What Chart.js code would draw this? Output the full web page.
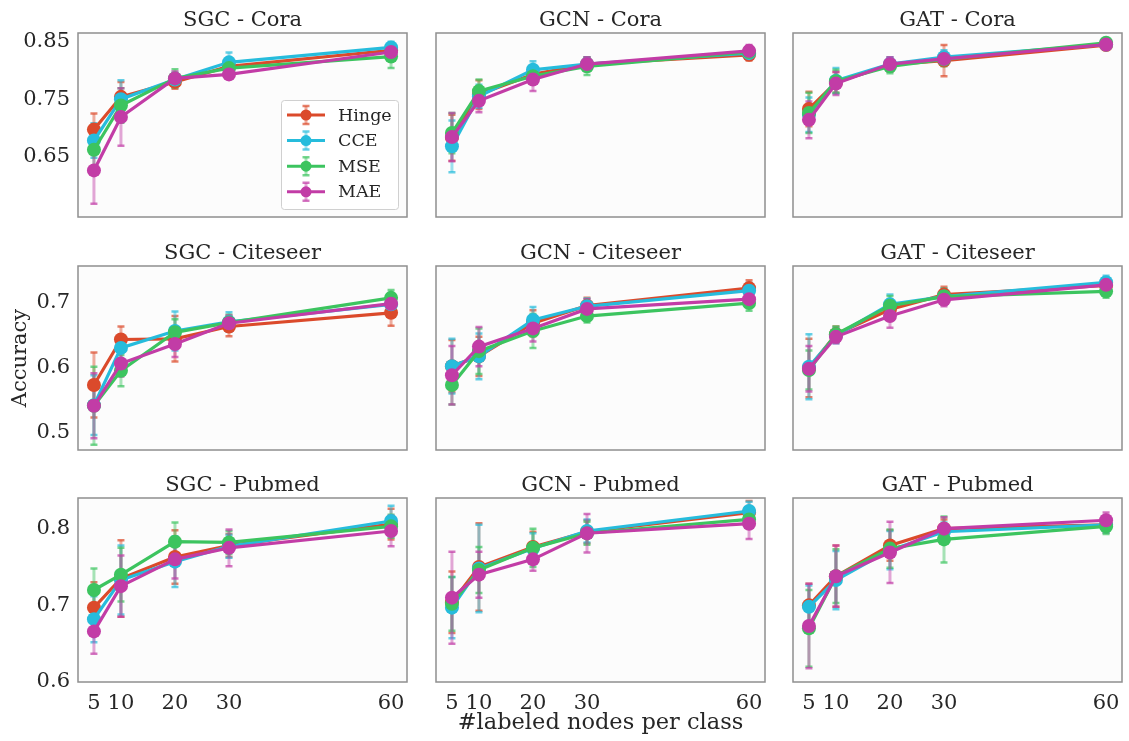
<!DOCTYPE html>
<html>
<head>
<meta charset="utf-8">
<script src="https://cdn.jsdelivr.net/npm/chart.js@4.4.1/dist/chart.umd.min.js"></script>
<style>
    html, body { margin: 0; padding: 0; background: #ffffff; overflow: hidden; }
    #fig { position: relative; width: 1129px; height: 741px; }
    #fig canvas { position: absolute; }
</style>
</head>
<body>
<div id="fig"></div>
<script>
'use strict'

// x values and series names
const nodesPerClass = [5, 10, 20, 30, 60];
const lossNames = ['Hinge', 'CCE', 'MSE', 'MAE'];
const lossColors = ['#db4a2b', '#26bcdc', '#3cc45f', '#c23ca6'];
const modelNames = ['SGC', 'GCN', 'GAT'];
const graphNames = ['Cora', 'Citeseer', 'Pubmed'];

// y ticks per row (rows share the y axis)
const rowTicks = [[0.65, 0.75, 0.85], [0.5, 0.6, 0.7], [0.6, 0.7, 0.8]];
const rowTickLabels = [['0.65', '0.75', '0.85'], ['0.5', '0.6', '0.7'], ['0.6', '0.7', '0.8']];

// Mean accuracy, one row per loss (Hinge, CCE, MSE, MAE)
const sgcCoraMean = [
    [0.697, 0.754, 0.780, 0.807, 0.835],
    [0.678, 0.750, 0.784, 0.814, 0.840],
    [0.662, 0.739, 0.786, 0.804, 0.824],
    [0.626, 0.719, 0.786, 0.793, 0.832]
];
const sgcCoraErr = [
    [0.028, 0.026, 0.012, 0.010, 0.010],
    [0.030, 0.033, 0.012, 0.017, 0.010],
    [0.030, 0.030, 0.016, 0.008, 0.020],
    [0.058, 0.050, 0.012, 0.008, 0.010]
];
const gcnCoraMean = [
    [0.683, 0.758, 0.793, 0.811, 0.827],
    [0.668, 0.755, 0.801, 0.811, 0.830],
    [0.691, 0.764, 0.790, 0.807, 0.832],
    [0.684, 0.747, 0.784, 0.811, 0.834]
];
const gcnCoraErr = [
    [0.040, 0.025, 0.012, 0.012, 0.010],
    [0.045, 0.020, 0.015, 0.012, 0.010],
    [0.035, 0.020, 0.012, 0.015, 0.010],
    [0.042, 0.020, 0.020, 0.012, 0.010]
];
const gatCoraMean = [
    [0.733, 0.779, 0.810, 0.817, 0.844],
    [0.723, 0.782, 0.811, 0.823, 0.845],
    [0.726, 0.781, 0.807, 0.819, 0.848],
    [0.714, 0.777, 0.811, 0.820, 0.845]
];
const gatCoraErr = [
    [0.030, 0.018, 0.012, 0.027, 0.008],
    [0.030, 0.022, 0.012, 0.012, 0.008],
    [0.035, 0.020, 0.012, 0.012, 0.008],
    [0.032, 0.020, 0.012, 0.012, 0.008]
];
const sgcCiteseerMean = [
    [0.573, 0.643, 0.644, 0.663, 0.684],
    [0.542, 0.630, 0.656, 0.670, 0.697],
    [0.541, 0.595, 0.654, 0.669, 0.707],
    [0.541, 0.606, 0.636, 0.668, 0.698]
];
const sgcCiteseerErr = [
    [0.050, 0.020, 0.035, 0.015, 0.020],
    [0.046, 0.020, 0.030, 0.015, 0.012],
    [0.060, 0.024, 0.020, 0.012, 0.012],
    [0.050, 0.020, 0.020, 0.012, 0.012]
];
const gcnCiteseerMean = [
    [0.602, 0.617, 0.668, 0.695, 0.722],
    [0.602, 0.617, 0.673, 0.694, 0.718],
    [0.573, 0.625, 0.656, 0.679, 0.699],
    [0.588, 0.632, 0.660, 0.690, 0.705]
];
const gcnCiteseerErr = [
    [0.040, 0.030, 0.020, 0.012, 0.012],
    [0.042, 0.035, 0.020, 0.012, 0.012],
    [0.030, 0.035, 0.026, 0.010, 0.012],
    [0.045, 0.030, 0.020, 0.015, 0.012]
];
const gatCiteseerMean = [
    [0.599, 0.651, 0.689, 0.712, 0.726],
    [0.601, 0.649, 0.697, 0.709, 0.731],
    [0.596, 0.651, 0.695, 0.709, 0.717],
    [0.598, 0.647, 0.679, 0.704, 0.727]
];
const gatCiteseerErr = [
    [0.045, 0.012, 0.015, 0.012, 0.010],
    [0.050, 0.012, 0.015, 0.012, 0.010],
    [0.030, 0.012, 0.015, 0.012, 0.010],
    [0.035, 0.010, 0.018, 0.010, 0.010]
];
const sgcPubmedMean = [
    [0.697, 0.735, 0.763, 0.778, 0.806],
    [0.682, 0.733, 0.757, 0.777, 0.810],
    [0.720, 0.740, 0.783, 0.782, 0.803],
    [0.666, 0.725, 0.760, 0.775, 0.797]
];
const sgcPubmedErr = [
    [0.033, 0.050, 0.035, 0.015, 0.020],
    [0.030, 0.045, 0.033, 0.015, 0.020],
    [0.028, 0.035, 0.025, 0.015, 0.015],
    [0.029, 0.040, 0.025, 0.024, 0.020]
];
const gcnPubmedMean = [
    [0.704, 0.750, 0.776, 0.796, 0.821],
    [0.697, 0.748, 0.774, 0.797, 0.823],
    [0.702, 0.746, 0.775, 0.794, 0.812],
    [0.710, 0.740, 0.760, 0.794, 0.8065]
];
const gcnPubmedErr = [
    [0.040, 0.057, 0.020, 0.015, 0.015],
    [0.040, 0.057, 0.020, 0.015, 0.012],
    [0.035, 0.030, 0.025, 0.015, 0.010],
    [0.060, 0.030, 0.015, 0.025, 0.020]
];
const gatPubmedMean = [
    [0.700, 0.738, 0.778, 0.800, 0.805],
    [0.698, 0.733, 0.772, 0.796, 0.805],
    [0.670, 0.738, 0.774, 0.786, 0.803],
    [0.673, 0.738, 0.769, 0.800, 0.811]
];
const gatPubmedErr = [
    [0.028, 0.040, 0.020, 0.012, 0.010],
    [0.028, 0.038, 0.025, 0.012, 0.010],
    [0.050, 0.035, 0.025, 0.030, 0.010],
    [0.055, 0.040, 0.040, 0.015, 0.010]
];

const panelMeans = [
    [sgcCoraMean, gcnCoraMean, gatCoraMean],
    [sgcCiteseerMean, gcnCiteseerMean, gatCiteseerMean],
    [sgcPubmedMean, gcnPubmedMean, gatPubmedMean]
];
const panelErrs = [
    [sgcCoraErr, gcnCoraErr, gatCoraErr],
    [sgcCiteseerErr, gcnCiteseerErr, gatCiteseerErr],
    [sgcPubmedErr, gcnPubmedErr, gatPubmedErr]
];

// Layout of the 3x3 grid (plot area corners, in page pixels)
const colLeft = [78, 436, 793];
const rowTop = [33, 266, 498];
const rowRange = [[0.545, 0.865], [0.473, 0.756], [0.6, 0.84]];
const plotW = 335, plotH = 184;
const marginL = 78, marginT = 33, marginR = 1, marginB = 58;

const serif = '"DejaVu Serif", "Liberation Serif", serif';
const textColor = '#262626';

Chart.defaults.font.family = serif;
Chart.defaults.color = textColor;

function hexToRgba(hex, alpha) {
    let r = parseInt(hex.slice(1, 3), 16);
    let g = parseInt(hex.slice(3, 5), 16);
    let b = parseInt(hex.slice(5, 7), 16);
    return 'rgba(' + r + ',' + g + ',' + b + ',' + alpha + ')';
}

/**
 * Draws one vertical error bar with caps.
 */
function drawErrorBar(ctx, x, yLo, yHi, color) {
    ctx.save();
    ctx.strokeStyle = hexToRgba(color, 0.45);
    ctx.lineWidth = 3;
    ctx.beginPath();
    ctx.moveTo(x, yLo);
    ctx.lineTo(x, yHi);
    ctx.stroke();
    ctx.strokeStyle = hexToRgba(color, 0.7);
    ctx.lineWidth = 2.5;
    ctx.beginPath();
    ctx.moveTo(x - 3.5, yLo);
    ctx.lineTo(x + 3.5, yLo);
    ctx.moveTo(x - 3.5, yHi);
    ctx.lineTo(x + 3.5, yHi);
    ctx.stroke();
    ctx.restore();
}

// Error bars placed through the chart's own scales.
const errorBarsPlugin = {
    id: 'errorBars',
    beforeDatasetsDraw(chart) {
        const ctx = chart.ctx;
        const xs = chart.scales.x;
        const ys = chart.scales.y;
        chart.data.datasets.forEach((ds) => {
            ds.data.forEach((pt, j) => {
                let x = xs.getPixelForValue(pt.x);
                let lo = ys.getPixelForValue(pt.y - ds.errors[j]);
                let hi = ys.getPixelForValue(pt.y + ds.errors[j]);
                drawErrorBar(ctx, x, lo, hi, ds.borderColor);
            });
        });
    }
};

const framePlugin = {
    id: 'frame',
    beforeDraw(chart) {
        const a = chart.chartArea;
        chart.ctx.save();
        chart.ctx.fillStyle = '#fcfcfc';
        chart.ctx.fillRect(a.left, a.top, a.right - a.left, a.bottom - a.top);
        chart.ctx.restore();
    },
    afterDraw(chart) {
        const a = chart.chartArea;
        chart.ctx.save();
        chart.ctx.strokeStyle = '#8f8f8f';
        chart.ctx.lineWidth = 1.5;
        chart.ctx.strokeRect(a.left, a.top, a.right - a.left, a.bottom - a.top);
        chart.ctx.restore();
    }
};

function makeTitlePlugin(text) {
    return {
        id: 'panelTitle',
        afterDraw(chart) {
            const a = chart.chartArea;
            const ctx = chart.ctx;
            ctx.save();
            ctx.font = '21px ' + serif;
            ctx.fillStyle = textColor;
            ctx.textAlign = 'center';
            ctx.textBaseline = 'alphabetic';
            ctx.fillText(text, (a.left + a.right) / 2, a.top - 7);
            ctx.restore();
        }
    };
}

// Legend drawn inside the lower right corner of the first panel.
const lossLegendPlugin = {
    id: 'lossLegend',
    afterDraw(chart) {
        const a = chart.chartArea;
        const ctx = chart.ctx;
        const boxW = 117, boxH = 109;
        const bx = a.right - 9 - boxW;
        const by = a.bottom - 8 - boxH;

        ctx.save();
        ctx.fillStyle = 'rgba(255,255,255,0.85)';
        ctx.strokeStyle = '#d0d0d0';
        ctx.lineWidth = 1;
        ctx.beginPath();
        ctx.roundRect(bx + 0.5, by + 0.5, boxW, boxH, 3);
        ctx.fill();
        ctx.stroke();

        chart.data.datasets.forEach((ds, i) => {
            let cy = by + 15 + i * 25.6;
            let color = ds.borderColor;
            drawErrorBar(ctx, bx + 25, cy - 9, cy + 9, color);
            ctx.strokeStyle = color;
            ctx.lineWidth = 3;
            ctx.beginPath();
            ctx.moveTo(bx + 6, cy);
            ctx.lineTo(bx + 44, cy);
            ctx.stroke();
            ctx.fillStyle = color;
            ctx.beginPath();
            ctx.arc(bx + 25, cy, 5.5, 0, Math.PI * 2);
            ctx.fill();
            ctx.fillStyle = textColor;
            ctx.font = '17.5px ' + serif;
            ctx.textAlign = 'left';
            ctx.textBaseline = 'middle';
            ctx.fillText(ds.label, bx + 57, cy + 1);
        });
        ctx.restore();
    }
};

function makePanel(row, col) {
    const fig = document.getElementById('fig');
    const canvas = document.createElement('canvas');
    const w = marginL + plotW + marginR;
    const h = marginT + plotH + marginB;
    canvas.width = w;
    canvas.height = h;
    canvas.style.width = w + 'px';
    canvas.style.height = h + 'px';
    canvas.style.left = (colLeft[col] - marginL) + 'px';
    canvas.style.top = (rowTop[row] - marginT) + 'px';
    fig.appendChild(canvas);

    const means = panelMeans[row][col];
    const errs = panelErrs[row][col];
    const datasets = lossNames.map((name, i) => ({
        label: name,
        data: nodesPerClass.map((x, j) => ({x: x, y: means[i][j]})),
        errors: errs[i],
        borderColor: lossColors[i],
        backgroundColor: lossColors[i],
        borderWidth: 3.2,
        pointRadius: 7,
        pointBorderWidth: 0,
        pointHoverRadius: 7,
        tension: 0,
        order: lossNames.length - i
    }));

    const plugins = [framePlugin, errorBarsPlugin, makeTitlePlugin(modelNames[col] + ' - ' + graphNames[row])];
    if (row === 0 && col === 0) {
        plugins.push(lossLegendPlugin);
    }

    new Chart(canvas.getContext('2d'), {
        type: 'line',
        data: {datasets: datasets},
        plugins: plugins,
        options: {
            responsive: false,
            animation: false,
            events: [],
            layout: {
                padding: {left: 0, top: marginT, right: marginR, bottom: 0}
            },
            plugins: {
                legend: {display: false},
                tooltip: {enabled: false},
                title: {display: false}
            },
            scales: {
                x: {
                    type: 'linear',
                    min: 2.05,
                    max: 62.95,
                    grid: {display: false, drawTicks: false},
                    border: {display: false},
                    afterBuildTicks: (s) => { s.ticks = nodesPerClass.map((v) => ({value: v})); },
                    afterFit: (s) => {
                        s.height = marginB;
                        s.paddingLeft = 0;
                        s.paddingRight = 0;
                    },
                    ticks: {
                        display: row === 2,
                        padding: 9,
                        autoSkip: false,
                        maxRotation: 0,
                        color: textColor,
                        font: {size: 21, family: serif},
                        callback: (v) => String(v)
                    },
                    title: {
                        display: row === 2 && col === 1,
                        text: '#labeled nodes per class',
                        color: textColor,
                        font: {size: 22.5, family: serif},
                        padding: {top: 0, bottom: 3}
                    }
                },
                y: {
                    type: 'linear',
                    min: rowRange[row][0],
                    max: rowRange[row][1],
                    grid: {display: false, drawTicks: false},
                    border: {display: false},
                    afterBuildTicks: (s) => { s.ticks = rowTicks[row].map((v) => ({value: v})); },
                    afterFit: (s) => {
                        s.width = marginL;
                        s.paddingTop = 0;
                        s.paddingBottom = 0;
                    },
                    ticks: {
                        display: col === 0,
                        padding: 8,
                        autoSkip: false,
                        color: textColor,
                        font: {size: 21, family: serif},
                        callback: (v, i) => rowTickLabels[row][i]
                    },
                    title: {
                        display: row === 1 && col === 0,
                        text: 'Accuracy',
                        color: textColor,
                        font: {size: 21, family: serif},
                        padding: {top: 8, bottom: 0}
                    }
                }
            }
        }
    });
}

window.onload = function() {
    for (let r = 0; r < 3; r++) {
        for (let c = 0; c < 3; c++) {
            makePanel(r, c);
        }
    }
}
</script>
</body>
</html>
